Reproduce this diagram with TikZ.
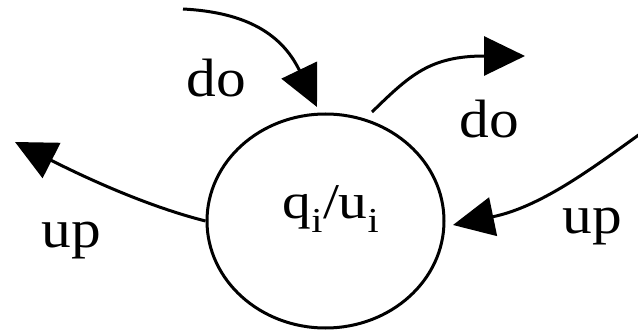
\documentclass[tikz,border=0pt]{standalone}
\usepackage{fontspec}
\setmainfont{Liberation Serif}
\usetikzlibrary{arrows.meta,shapes.geometric}
\begin{document}
\begin{tikzpicture}[x=1pt,y=1pt,
  conn/.style={line width=3pt,-{Triangle[length=41pt,width=39pt]}},
  lbl/.style={inner sep=0pt,anchor=base,font=\fontsize{54}{60}\selectfont},
  state/.style={ellipse,draw,line width=3pt,inner sep=0pt,minimum width=237pt,minimum height=214pt}]
\useasboundingbox (0,0) rectangle (638,330);
\node[state] (s) at (325.5,109) {};
\node[inner sep=0pt,anchor=base,font=\fontsize{50}{56}\selectfont] (t) at (331,112) {\scalebox{1.15}[1]{q\textsubscript{i}/u\textsubscript{i}}};
\node[lbl] (d1) at (216,233) {\scalebox{1.1}[1]{do}};
\node[lbl] (d2) at (489.5,193) {\scalebox{1.1}[1]{do}};
\node[lbl] (u1) at (71.5,83) {\scalebox{1.1}[1]{up}};
\node[lbl] (u2) at (592.5,97) {\scalebox{1.1}[1]{up}};
\coordinate (a1s) at (183,321);
\coordinate (a1e) at (317,223);
\coordinate (a2s) at (372,218);
\coordinate (a2e) at (525,274);
\coordinate (a3e) at (15,188);
\coordinate (a4s) at (640,196);
\coordinate (a4e) at (453,105);
\draw[conn] (a1s) .. controls (240,318) and (280,300) .. (a1e);
\draw[conn] (a2s) .. controls (410,255) and (430,274) .. (a2e);
\draw[conn] (s.west) .. controls (150,123) and (90,150) .. (a3e);
\draw[conn] (a4s) .. controls (590,160) and (540,123) .. (a4e);
\end{tikzpicture}
\end{document}
